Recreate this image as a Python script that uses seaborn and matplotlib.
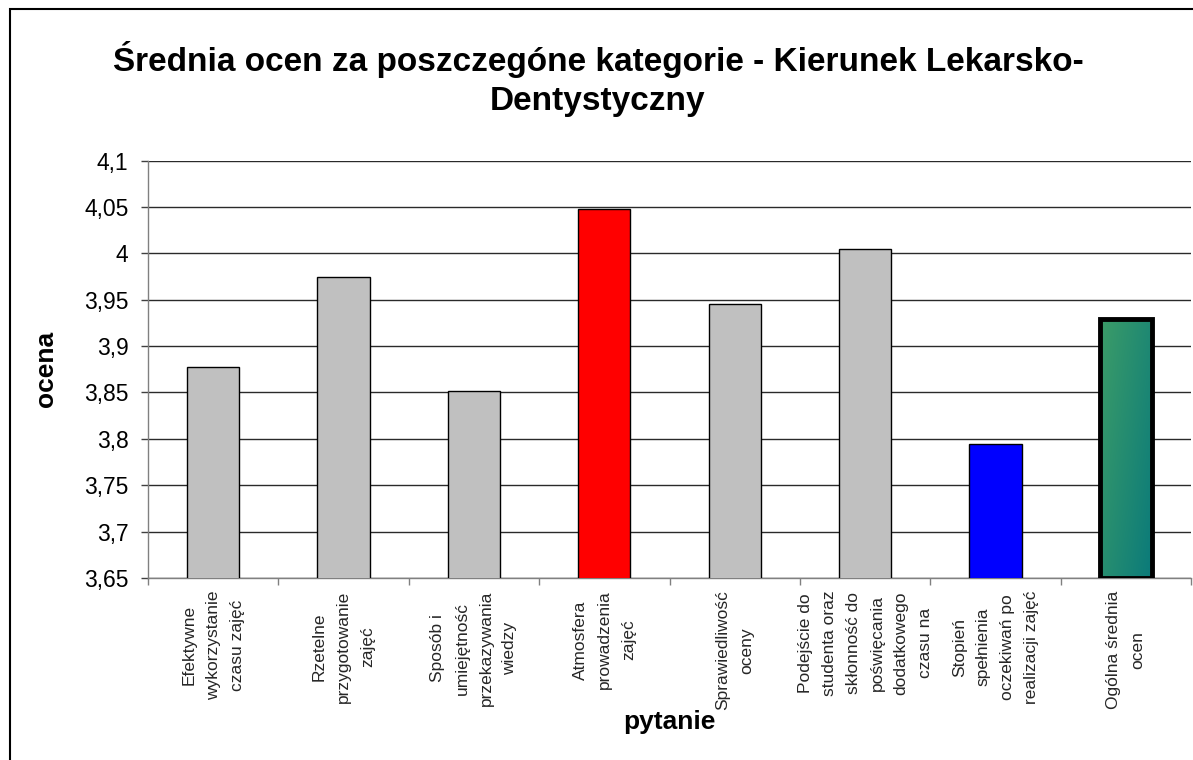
import matplotlib
matplotlib.use("Agg")
import matplotlib.pyplot as plt
import seaborn as sns
import numpy as np
from matplotlib.patches import Rectangle
from matplotlib.ticker import FixedLocator, FixedFormatter

# ---- data ----
categories = [
    "Efektywne\nwykorzystanie\nczasu zajęć",
    "Rzetelne\nprzygotowanie\nzajęć",
    "Sposób i\numiejętność\nprzekazywania\nwiedzy",
    "Atmosfera\nprowadzenia\nzajęć",
    "Sprawiedliwość\noceny",
    "Podejście do\nstudenta oraz\nskłonność do\npoświęcania\ndodatkowego\nczasu na",
    "Stopień\nspełnienia\noczekiwań po\nrealizacji zajęć",
    "Ogólna średnia\nocen",
]
values = [3.878, 3.975, 3.852, 4.048, 3.945, 4.005, 3.795, 3.929]
bar_colors = ["#C0C0C0", "#C0C0C0", "#C0C0C0", "#FF0000", "#C0C0C0", "#C0C0C0", "#0000FF", "#2E8F70"]
yticks = [3.65, 3.7, 3.75, 3.8, 3.85, 3.9, 3.95, 4.0, 4.05, 4.1]
ytick_labels = ["3,65", "3,7", "3,75", "3,8", "3,85", "3,9", "3,95", "4", "4,05", "4,1"]
title = "Średnia ocen za poszczegóne kategorie - Kierunek Lekarsko-\nDentystyczny"
xlabel = "pytanie"
ylabel = "ocena"

sns.set_theme(style="white")
plt.rcParams["font.family"] = ["Liberation Sans", "DejaVu Sans"]

W, H = 1193, 760
fig = plt.figure(figsize=(W / 100, H / 100), dpi=100)
fig.patch.set_facecolor("white")
ax = fig.add_axes([148 / W, 1 - 578 / H, (1191 - 148) / W, (578 - 160.6) / H])
ax.set_facecolor("white")

sns.barplot(x=list(range(len(values))), y=values, hue=list(range(len(values))),
            palette=bar_colors, legend=False, width=0.4, edgecolor="black",
            linewidth=1.0, saturation=1, ax=ax, zorder=3)

ax.set_ylim(3.65, 4.1)
ax.set_xlim(-0.5, len(values) - 0.5)

# gradient fill for last bar
last = ax.patches[-1]
bx, by = last.get_x(), 3.65
bw = last.get_width()
bh = values[-1] - 3.65
grad = np.zeros((50, 50, 3))
c1 = np.array([0x3C, 0x9C, 0x68]) / 255.0
c2 = np.array([0x0A, 0x7A, 0x7A]) / 255.0
for i in range(50):
    for j in range(50):
        t = (j / 49.0) * 0.6 + (i / 49.0) * 0.4
        grad[i, j] = c1 * (1 - t) + c2 * t
im = ax.imshow(grad, extent=[bx, bx + bw, by, by + bh], origin="upper",
               aspect="auto", zorder=3.5)
im.set_clip_path(last)
ax.add_patch(Rectangle((bx, by), bw, bh, fill=False, edgecolor="black",
                       linewidth=3.5, zorder=4))
ax.set_xlim(-0.5, len(values) - 0.5)
ax.set_ylim(3.65, 4.1)

# gridlines
ax.yaxis.set_major_locator(FixedLocator(yticks))
ax.yaxis.set_major_formatter(FixedFormatter(ytick_labels))
for yv in yticks:
    ax.axhline(yv, color="#2a2a2a", linewidth=1.0, zorder=1)

# x ticks: labels at centers, tick marks at boundaries
ax.set_xticks(list(range(len(values))))
ax.set_xticklabels(categories, rotation=90, ha="center", va="top",
                   multialignment="center", fontsize=12.5)
for lbl in ax.get_xticklabels():
    lbl.set_linespacing(1.75)
ax.set_xticks([i - 0.5 for i in range(len(values) + 1)], minor=True)
ax.tick_params(axis="x", which="major", length=0, pad=9)
ax.tick_params(axis="x", which="minor", length=5, width=1, color="#808080",
               direction="out", bottom=True)
ax.tick_params(axis="y", which="major", length=5, width=1, color="#404040",
               direction="out", left=True, labelsize=16.5, pad=9,
               labelcolor="black")

for s in ["top", "right"]:
    ax.spines[s].set_visible(False)
for s in ["left", "bottom"]:
    ax.spines[s].set_color("#808080")
    ax.spines[s].set_linewidth(1.0)

ax.set_xlabel(xlabel, fontsize=19, fontweight="bold", color="black")
ax.set_ylabel(ylabel, fontsize=19, fontweight="bold", color="black")
ax.xaxis.set_label_coords(0.5, (578 - 722) / (578 - 160.6))
ax.xaxis.label.set_va("center")
ax.yaxis.set_label_coords((46 - 148) / (1191 - 148), 0.5)
ax.yaxis.label.set_va("center")

fig.suptitle(title, x=598 / W, y=1 - 79 / H, va="center", fontsize=24,
             fontweight="bold", linespacing=1.3, color="black")

# outer chart border
fig.add_artist(Rectangle((10 / W, -0.05), 1.2, 1 - 9 / H + 0.05, fill=False,
                         edgecolor="black", linewidth=1.5,
                         transform=fig.transFigure, clip_on=False))

fig.savefig("out.png", dpi=100, facecolor="white")
